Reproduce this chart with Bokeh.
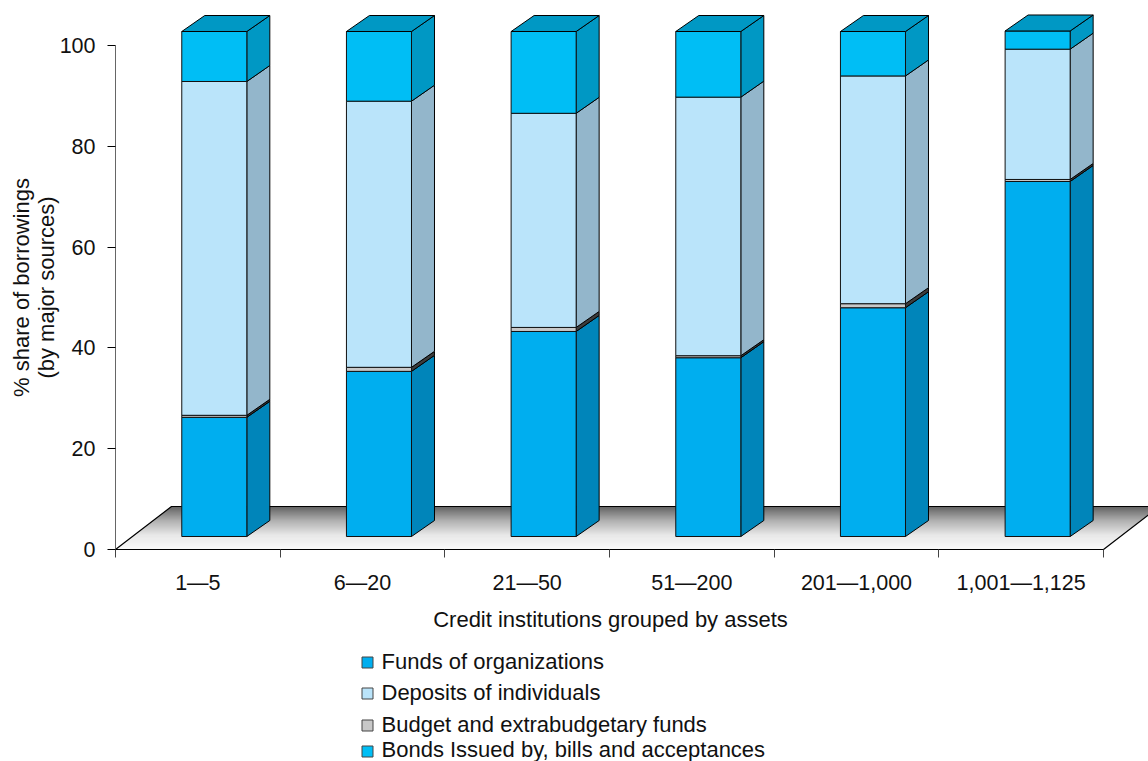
from bokeh.plotting import figure
from bokeh.embed import file_html
from bokeh.resources import INLINE
from bokeh.models import Range1d, FixedTicker
from bokeh.core.properties import value
import numpy as np

categories = ["1—5", "6—20", "21—50", "51—200", "201—1,000", "1,001—1,125"]
funds_of_organizations = [23.6, 32.7, 40.6, 35.4, 45.3, 70.3]
budget_funds = [0.4, 0.8, 0.8, 0.4, 0.8, 0.4]
deposits_of_individuals = [66.1, 52.7, 42.4, 51.2, 45.1, 25.8]
bonds_bills = [9.9, 13.8, 16.2, 13.0, 8.8, 3.6]
y_ticks = [0, 20, 40, 60, 80, 100]
series = [
    ("Funds of organizations", funds_of_organizations, "#00AEEF", "#0085BA"),
    ("Budget and extrabudgetary funds", budget_funds, "#C8C8C8", "#3c3c3c"),
    ("Deposits of individuals", deposits_of_individuals, "#BAE4FA", "#93B6CB"),
    ("Bonds Issued by, bills and acceptances", bonds_bills, "#00BEF5", "#0098C4"),
]
top_colour = "#0098C4"
FONT = "Liberation Sans"
FS = "22px"
TICK_FS = "21.5px"
W, H = 1148, 761
LEFT, BOTTOM_Y, UNIT_Y = 115, 549, 5.04
CAT = 988 / 6

def dx(px):
    return (px - LEFT) / CAT

def dy(py):
    return (BOTTOM_Y - py) / UNIT_Y

# the frame fills the canvas; the axes sit at data 0 inside it
p = figure(width=W, height=H, output_backend="svg", toolbar_location=None,
           x_range=Range1d(dx(0), dx(W)), y_range=Range1d(dy(H), dy(0)),
           min_border=0, outline_line_color=None)
p.grid.visible = False

# floor
fx, fy = 56 / CAT, 43 / UNIT_Y
stops_t, stops_c = [0, 0.33, 0.66, 1], [0x62, 0xb0, 0xe8, 0xfb]
N = 43
xs, ys, cols = [], [], []
for i in range(N):
    t0, t1 = i / N, min(1, (i + 1.6) / N)
    y0, y1 = fy * (1 - t1), fy * (1 - t0)
    a0, a1 = y0 / fy * fx, y1 / fy * fx
    xs.append([a0, 6 + a0, 6 + a1, a1])
    ys.append([y0, y0, y1, y1])
    g = int(np.interp((i + .5) / N, stops_t, stops_c))
    cols.append(f"#{g:02x}{g:02x}{g:02x}")
p.patches(xs, ys, fill_color=cols, line_color=None)
p.line([6 + fx, fx, 0, 6, 6 + fx], [fy, fy, 0, 0, fy], line_color="black", line_width=1.2)

# bars
OFF, BW = 0.1, 0.395
DX, DY = 23 / CAT, 16 / UNIT_Y
BASE = 13 / UNIT_Y
centres = np.arange(6) + 0.5 + OFF
cum = np.full(6, BASE)
for name, vals, front, side in series:
    v = np.array(vals)
    top = cum + v * 505 / 504
    rx = centres + BW / 2
    p.patches([[x, x + DX, x + DX, x] for x in rx],
              [[b, b + DY, t + DY, t] for b, t in zip(cum, top)],
              fill_color=side, line_color="black", line_width=1)
    p.vbar(x=centres, bottom=cum, top=top, width=BW, fill_color=front,
           line_color="#111111", line_width=1)
    cum = top
p.patches([[x - BW / 2, x + BW / 2, x + BW / 2 + DX, x - BW / 2 + DX] for x in centres],
          [[t, t, t + DY, t + DY] for t in cum],
          fill_color=top_colour, line_color="black", line_width=1)

# axes
ya = p.yaxis[0]
ya.fixed_location = 0
ya.ticker = FixedTicker(ticks=y_ticks)
ya.bounds = (0, 100)
ya.axis_line_color = "#666666"
ya.major_tick_in, ya.major_tick_out = 0, 8
ya.major_tick_line_color = "black"
ya.minor_tick_line_color = None
ya.major_label_standoff = 12
xa = p.xaxis[0]
xa.fixed_location = 0
xa.ticker = FixedTicker(ticks=[i + 0.5 for i in range(6)], minor_ticks=list(range(7)))
xa.major_label_overrides = {i + 0.5: c for i, c in enumerate(categories)}
xa.bounds = (0, 6)
xa.axis_line_color = "black"
xa.major_tick_line_color = None
xa.major_tick_in, xa.major_tick_out = 0, 8
xa.minor_tick_line_color = "#444444"
xa.minor_tick_in, xa.minor_tick_out = 0, 8
xa.major_label_standoff = 13
for a in (xa, ya):
    a.major_label_text_font = FONT
    a.major_label_text_font_size = TICK_FS
    a.major_label_text_color = "#111111"

def lab(x, y, text, align="left", angle=0.0):
    p.text([dx(x)], [dy(y)], text=[text], text_font=value(FONT), text_font_size=value(FS),
           text_color="#111111", text_baseline="middle", text_align=align, angle=angle)

lab(610, 619, "Credit institutions grouped by assets", "center")
lab(21, 287, "% share of borrowings", "center", np.pi / 2)
lab(46, 287, "(by major sources)", "center", np.pi / 2)

rows = [("Funds of organizations", 661, 662, "#00AEEF"), ("Deposits of individuals", 692, 693, "#BAE4FA"),
        ("Budget and extrabudgetary funds", 724, 725, "#C8C8C8"),
        ("Bonds Issued by, bills and acceptances", 749, 751, "#00BEF5")]
for name, yt, ym, col in rows:
    p.scatter([dx(367)], [dy(ym)], marker="square", size=11, fill_color=col, line_color="#444444", line_width=1)
    lab(381, yt, name)

open("out.html", "w").write(file_html(p, INLINE))
